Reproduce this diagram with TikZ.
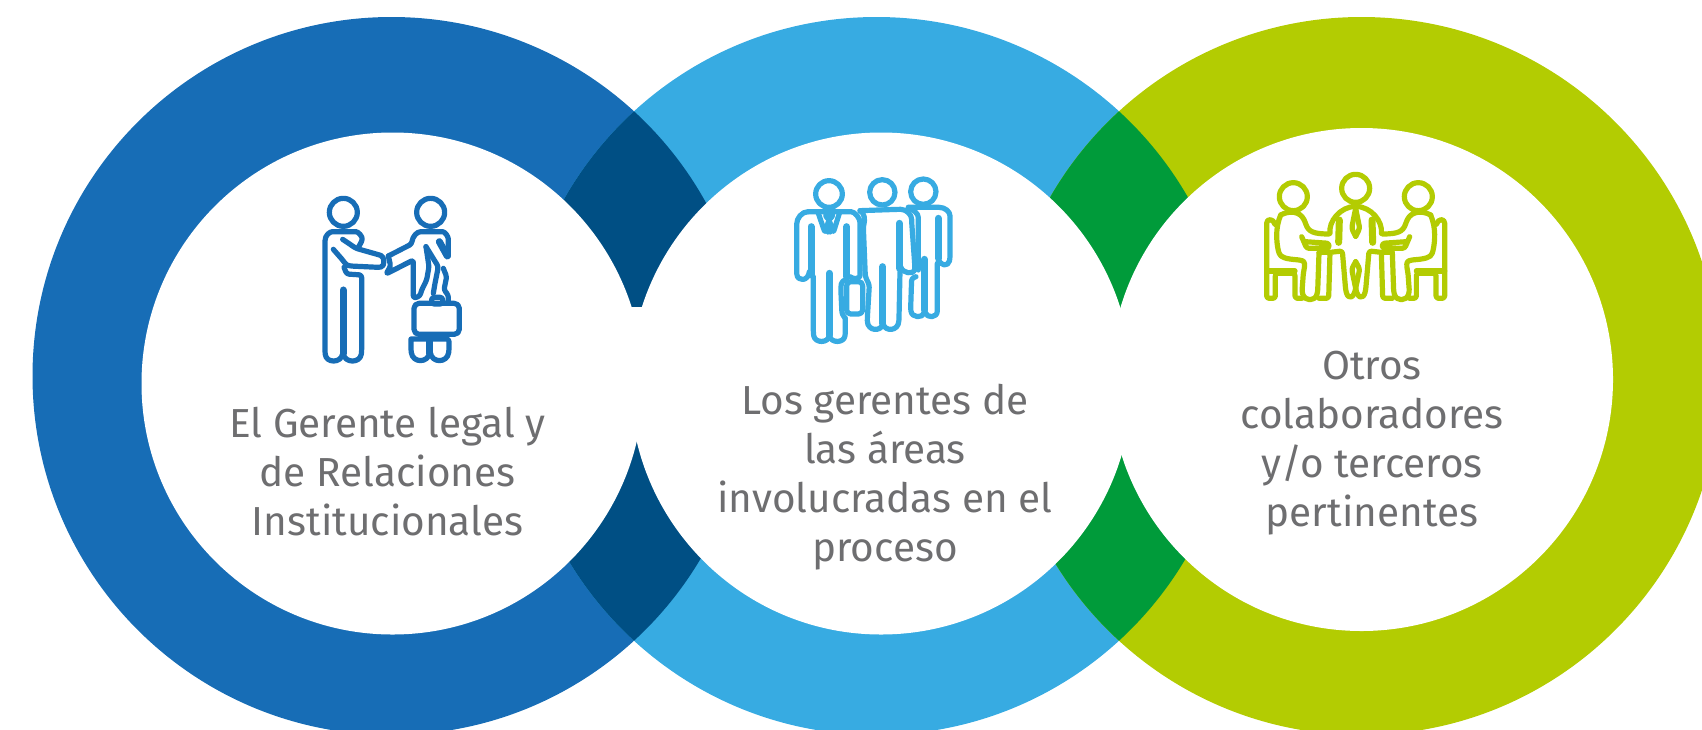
\documentclass[tikz,border=0pt]{standalone}
\usepackage{fontspec}
\setmainfont{Fira Sans}
\definecolor{cblue}{HTML}{176DB6}
\definecolor{clight}{HTML}{37ABE2}
\definecolor{cgreen}{HTML}{B3CC02}
\definecolor{cdark}{HTML}{004F84}
\definecolor{cdgreen}{HTML}{009B3A}
\definecolor{ctext}{HTML}{6E6E70}
\tikzset{
  label text/.style={text=ctext,align=center,font=\fontsize{40.5}{49}\selectfont,inner sep=0pt},
  ico/.style={line width=5.2pt,line cap=round,line join=round,rounded corners=2.5pt},
  bar/.style={line width=7pt,line cap=round}
}
\newcommand{\greenhalf}{%
  \draw (92,150) .. controls (75,190) and (80,230) .. (85,258) .. controls (92,278) and (110,282) .. (150,285) .. controls (165,290) and (165,300) .. (160,325) -- (156,380) .. controls (165,410) and (195,410) .. (203,380) -- (207,264);
  \draw (92,150) .. controls (120,135) and (150,140) .. (165,170) .. controls (175,200) and (190,207) .. (237,207);
  \draw (75,178) .. controls (70,160) and (50,160) .. (50,182) -- (50,318) -- (50,400) -- (76,400) -- (76,325) -- (135,325) -- (135,400) -- (156,400);
  \draw (50,318) -- (135,318);
  \draw (155,215) -- (170,250) -- (237,250) -- (237,235) -- (165,230);
  \draw (207,262) -- (240,262) -- (236,400) -- (207,400);
  \draw (240,262) -- (277,258) -- (287,375) .. controls (295,405) and (312,400) .. (317,370);
  \draw (317,290) -- (305,312) -- (317,370);
  \draw (240,205) .. controls (235,170) and (270,125) .. (317,124);
  \draw (317,130) -- (305,190) -- (317,214);
  \draw[bar] (268,165) -- (266,232);
}
\begin{document}
\begin{tikzpicture}[x=1pt,y=-1pt]
\path[use as bounding box,clip] (0,0) rectangle (1702,729);
% rings
\fill[cblue] (391.5,376) circle (359);
\fill[clight] (876.5,376) circle (359);
\fill[cgreen] (1361.5,376) circle (359);
\begin{scope}
  \clip (391.5,376) circle (359);
  \fill[cdark] (876.5,376) circle (359);
\end{scope}
\begin{scope}
  \clip (876.5,376) circle (359);
  \fill[cdgreen] (1361.5,376) circle (359);
\end{scope}
\fill[white] (392.5,383.5) circle (251);
\fill[white] (881,383.5) circle (251);
\fill[white] (1361.5,379.5) circle (251.5);
\fill[white] (625,307) rectangle (650,330);

% icon 1
\begin{scope}[shift={(300,180)},x=0.3333pt,y=-0.3333pt,cblue,ico]
  \draw (130,97) circle (42);
  \draw (128,178) -- (168,205) -- (235,224) .. controls (255,230) and (255,260) .. (235,262) -- (150,258) .. controls (140,255) and (135,250) .. (128,240) -- (100,208);
  \draw (132,262) -- (140,282) -- (185,285) -- (185,515) .. controls (180,550) and (135,550) .. (129,515) .. controls (123,550) and (78,550) .. (75,515) -- (75,190) .. controls (75,165) and (90,155) .. (105,155) -- (160,155) .. controls (175,155) and (188,170) .. (185,185) -- (176,200);
  \draw[bar] (129,330) -- (129,520);
  \draw (392,97) circle (42);
  \draw (265,228) -- (335,192) .. controls (338,170) and (350,155) .. (370,155) -- (420,155) .. controls (435,155) and (445,170) .. (445,185) -- (445,228);
  \draw (265,228) -- (272,258) -- (258,282) -- (340,240) -- (340,355) -- (360,348) -- (365,330) -- (380,300) -- (387,260) -- (378,200);
  \draw[bar] (418,185) -- (442,228);
  \draw (378,200) -- (415,260) -- (405,310) -- (400,340);
  \draw (430,265) -- (440,290) -- (432,330) -- (445,345) -- (445,366);
  \draw[rounded corners=5pt] (342,370) rectangle (478,463);
  \draw (395,352) rectangle (428,372);
  \draw (333,477) -- (333,510) .. controls (338,550) and (385,550) .. (390,510) .. controls (395,550) and (442,550) .. (447,510) -- (447,477) -- (333,477);
  \draw[bar] (390,477) -- (390,520);
\end{scope}

% icon 2
\begin{scope}[shift={(780,170)},x=0.3333pt,y=-0.3333pt,clight,ico]
  \draw (147,72) circle (40);
  \draw (85,125) -- (205,125) .. controls (225,125) and (240,145) .. (240,165) -- (240,310) .. controls (240,325) and (220,330) .. (210,320);
  \draw (85,125) .. controls (65,125) and (50,145) .. (50,170) -- (50,305) .. controls (52,335) and (85,335) .. (88,305);
  \draw (100,320) -- (100,490) .. controls (105,520) and (145,520) .. (148,490) .. controls (152,520) and (192,520) .. (196,490) -- (196,445);
  \draw[bar] (93,170) -- (93,315);
  \draw[bar] (200,170) -- (200,320);
  \draw[bar] (148,310) -- (148,495);
  \draw (115,130) -- (135,188) -- (147,150);
  \draw (178,130) -- (160,188) -- (147,150);
  \draw (135,130) -- (160,130) -- (153,147) -- (141,147) -- cycle;
  \draw (147,150) -- (140,180) -- (147,190) -- (155,180) -- cycle;
  \draw[rounded corners=4pt] (200,335) rectangle (248,432);
  \draw (200,330) .. controls (180,330) and (183,350) .. (183,370) -- (186,432) -- (196,445);
  \draw (307,67) circle (38);
  \draw (240,122) -- (355,118) .. controls (380,118) and (395,135) .. (395,155) -- (405,295) .. controls (400,312) and (368,312) .. (362,290);
  \draw (240,122) .. controls (255,130) and (255,150) .. (250,170) -- (256,320) -- (268,345) -- (262,445) .. controls (262,485) and (305,485) .. (308,455) .. controls (315,485) and (355,485) .. (357,445) -- (360,305);
  \draw[bar] (358,160) -- (358,295);
  \draw[bar] (308,290) -- (308,460);
  \draw (430,65) circle (38);
  \draw (385,112) -- (470,112) .. controls (495,112) and (510,125) .. (510,145) -- (510,265) .. controls (505,290) and (480,290) .. (475,265);
  \draw (385,112) .. controls (400,120) and (415,130) .. (415,150) -- (415,300);
  \draw (408,320) -- (395,325) -- (392,415) .. controls (395,445) and (430,445) .. (434,420) .. controls (440,445) and (472,445) .. (472,415) -- (472,280);
  \draw[bar] (475,145) -- (475,265);
  \draw[bar] (433,268) -- (433,420);
\end{scope}

% icon 3
\begin{scope}[shift={(1250,165)},x=0.3333pt,y=-0.3333pt,cgreen,ico]
  \draw (317,70) circle (42);
  \draw (130,95) circle (42);
  \draw (505,95) circle (42);
  \greenhalf
\end{scope}
\begin{scope}[shift={(1461.333,165)},x=-0.3333pt,y=-0.3333pt,cgreen,ico]
  \greenhalf
\end{scope}

% labels
\node[label text] (t1) at (387.5,472) {El Gerente legal y\\de Relaciones\\Institucionales};
\node[label text] (t2) at (885,477) {Los gerentes de\\las áreas\\involucradas en el\\proceso};
\node[label text] (t3) at (1372,443.5) {Otros\\colaboradores\\y/o terceros\\pertinentes};
\end{tikzpicture}
\end{document}
